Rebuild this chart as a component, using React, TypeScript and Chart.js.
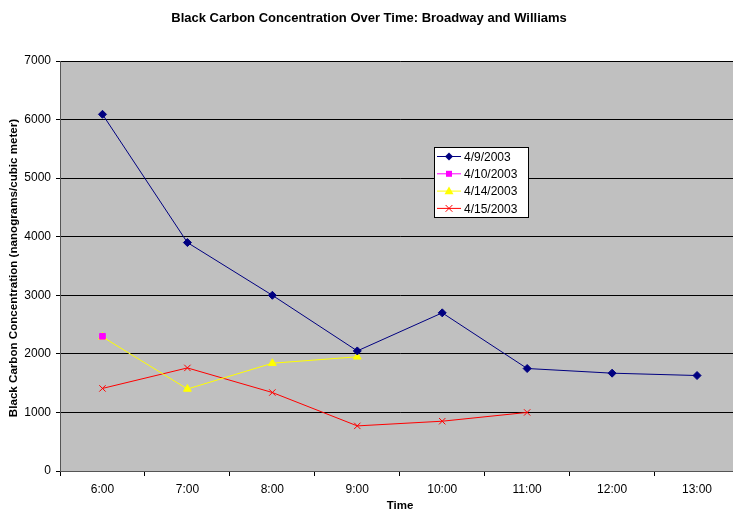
import React, { useEffect, useRef } from "react";
import { Chart, registerables } from "chart.js";

Chart.register(...registerables);

const categories = ["6:00", "7:00", "8:00", "9:00", "10:00", "11:00", "12:00", "13:00"];
const seriesLabels = ["4/9/2003", "4/10/2003", "4/14/2003", "4/15/2003"];
const apr9 = [6090, 3900, 3000, 2050, 2700, 1750, 1670, 1630];
const apr10 = [2300, null, null, null, null, null, null, null];
const apr14 = [2290, 1400, 1840, 1950, null, null, null, null];
const apr15 = [1410, 1760, 1340, 770, 850, 1000, null, null];
const yTicks = [0, 1000, 2000, 3000, 4000, 5000, 6000, 7000];

const titleText = "Black Carbon Concentration Over Time: Broadway and Williams";
const yTitle = "Black Carbon Concentration (nanograms/cubic meter)";
const xTitle = "Time";

const FONT = "'Liberation Sans', Arial, sans-serif";

function drawMarker(ctx: CanvasRenderingContext2D, style: string, x: number, y: number, r: number, color: string) {
  ctx.save();
  ctx.fillStyle = color;
  ctx.strokeStyle = color;
  ctx.lineWidth = 1;
  ctx.beginPath();
  if (style === "rectRot") {
    ctx.moveTo(x, y - r);
    ctx.lineTo(x + r, y);
    ctx.lineTo(x, y + r);
    ctx.lineTo(x - r, y);
    ctx.closePath();
    ctx.fill();
  } else if (style === "rect") {
    ctx.rect(x - r * 0.75, y - r * 0.75, r * 1.5, r * 1.5);
    ctx.fill();
  } else if (style === "triangle") {
    ctx.moveTo(x, y - r);
    ctx.lineTo(x + r, y + r * 0.7);
    ctx.lineTo(x - r, y + r * 0.7);
    ctx.closePath();
    ctx.fill();
  } else {
    const d = r * 0.75;
    ctx.moveTo(x - d, y - d);
    ctx.lineTo(x + d, y + d);
    ctx.moveTo(x + d, y - d);
    ctx.lineTo(x - d, y + d);
    ctx.stroke();
  }
  ctx.restore();
}

const decorPlugin = {
  id: "decor",
  beforeDraw(chart: any) {
    const { ctx, chartArea } = chart;
    ctx.save();
    ctx.fillStyle = "#ffffff";
    ctx.fillRect(0, 0, chart.width, chart.height);
    ctx.fillStyle = "#C0C0C0";
    ctx.fillRect(chartArea.left, chartArea.top, chartArea.right - chartArea.left, chartArea.bottom - chartArea.top);
    ctx.restore();
  },
  afterDraw(chart: any) {
    const { ctx, chartArea } = chart;
    ctx.save();
    ctx.fillStyle = "#000";
    ctx.textAlign = "center";
    ctx.textBaseline = "middle";
    ctx.font = `bold 13px ${FONT}`;
    ctx.fillText(titleText, 369, 18);
    ctx.font = `bold 11.5px ${FONT}`;
    ctx.fillText(xTitle, 400, 506);
    ctx.save();
    ctx.translate(14, 268);
    ctx.rotate(-Math.PI / 2);
    ctx.font = `bold 11.6px ${FONT}`;
    ctx.fillText(yTitle, 0, 0);
    ctx.restore();

    // legend
    const lx = 434, ly = 147, lw = 94, lh = 70;
    ctx.fillStyle = "#fff";
    ctx.fillRect(lx, ly, lw, lh);
    ctx.strokeStyle = "#000";
    ctx.lineWidth = 1;
    ctx.strokeRect(lx + 0.5, ly + 0.5, lw, lh);
    ctx.font = `12px ${FONT}`;
    ctx.textAlign = "left";
    chart.data.datasets.forEach((ds: any, i: number) => {
      const y = ly + 9.5 + i * 17.3;
      ctx.strokeStyle = ds.borderColor;
      ctx.lineWidth = 1;
      ctx.beginPath();
      ctx.moveTo(lx + 3, y);
      ctx.lineTo(lx + 27, y);
      ctx.stroke();
      drawMarker(ctx, ds.pointStyle, lx + 15, y, ds.pointRadius, ds.borderColor);
      ctx.fillStyle = "#000";
      ctx.fillText(ds.label, lx + 30, y + 1);
    });
    ctx.restore();
  },
};

export default function App() {
  const ref = useRef<HTMLCanvasElement>(null);
  useEffect(() => {
    if (!ref.current) return;
    const mk = (label: string, data: any[], color: string, style: string, radius: number) => ({
      label,
      data,
      borderColor: color,
      backgroundColor: color,
      pointBackgroundColor: color,
      pointBorderColor: color,
      pointStyle: style,
      pointRadius: radius,
      pointBorderWidth: 1,
      borderWidth: 1,
      tension: 0,
      spanGaps: false,
    });
    const chart = new Chart(ref.current, {
      type: "line",
      data: {
        labels: categories,
        datasets: [
          mk(seriesLabels[0], apr9, "#000080", "rectRot", 4),
          mk(seriesLabels[1], apr10, "#FF00FF", "rect", 4),
          mk(seriesLabels[2], apr14, "#FFFF00", "triangle", 4.5),
          mk(seriesLabels[3], apr15, "#FF0000", "crossRot", 4.5),
        ],
      },
      plugins: [decorPlugin],
      options: {
        responsive: false,
        animation: false,
        devicePixelRatio: 1,
        layout: { padding: { top: 61, left: 0, right: 5, bottom: 0 } },
        plugins: { legend: { display: false }, title: { display: false }, tooltip: { enabled: false } },
        scales: {
          x: {
            type: "category",
            offset: true,
            grid: { offset: true, drawOnChartArea: false, drawTicks: true, tickLength: 5, color: "#000" },
            border: { color: "#555", width: 1 },
            ticks: { color: "#000", font: { family: FONT, size: 12 }, padding: 6, maxRotation: 0 },
            afterFit: (axis: any) => { axis.height = 41; },
          },
          y: {
            min: 0,
            max: 7000,
            afterBuildTicks: (axis: any) => { axis.ticks = yTicks.map((v) => ({ value: v })); },
            grid: { color: "#000", lineWidth: 1, tickLength: 4, drawTicks: true },
            border: { color: "#555", width: 1 },
            ticks: { color: "#000", font: { family: FONT, size: 12 }, padding: 5, callback: (v: any) => String(v) },
            afterFit: (axis: any) => { axis.width = 60; },
          },
        },
      } as any,
    });
    return () => chart.destroy();
  }, []);
  return (
    <div style={{ position: "fixed", left: 0, top: 0, width: 733, height: 512, overflow: "hidden", background: "#fff" }}>
      <canvas ref={ref} width={745} height={512} style={{ width: 745, height: 512, display: "block" }} />
    </div>
  );
}
